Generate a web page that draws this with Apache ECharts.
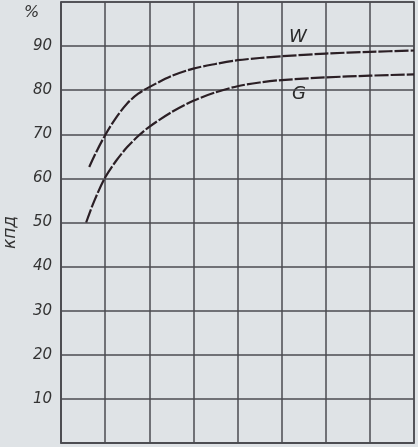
<!DOCTYPE html>
<html>
<head>
<meta charset="utf-8">
<script src="https://cdn.jsdelivr.net/npm/echarts@6/dist/echarts.min.js"></script>
<style>
html,body{margin:0;padding:0;background:#dfe3e6;}
#c{width:418px;height:447px;}
</style>
</head>
<body>
<div id="c"></div>
<script>
// x positions in grid units (no labels shown on the original)
const wX = [0.64, 0.8, 1.0, 1.25, 1.5, 1.75, 2.0, 2.5, 3.0, 3.5, 4.0, 4.5, 5.0, 6.0, 7.0, 8.0];
const wY = [62.6, 66.0, 69.8, 73.8, 77.0, 79.2, 80.7, 83.2, 84.9, 85.95, 86.8, 87.3, 87.7, 88.3, 88.7, 89.0];
const gX = [0.57, 0.75, 1.0, 1.25, 1.5, 1.75, 2.0, 2.5, 3.0, 3.5, 4.0, 4.5, 5.0, 6.0, 7.0, 8.0];
const gY = [50.0, 54.8, 60.2, 64.0, 67.1, 69.6, 71.7, 75.0, 77.6, 79.5, 80.9, 81.75, 82.3, 82.9, 83.3, 83.6];
const yTicks = [10, 20, 30, 40, 50, 60, 70, 80, 90];
const seriesNames = ['W', 'G'];
const yName = 'кпд';
const unit = '%';

const chart = echarts.init(document.getElementById('c'), null, {renderer: 'canvas'});
const gridCol = '#4b4b50';
const lineCol = '#2b1f25';
function pairs(xs, ys) { return xs.map((x, i) => [x, ys[i]]); }
chart.setOption({
  backgroundColor: '#dfe3e6',
  animation: false,
  grid: {left: 61, right: 4, top: 2, bottom: 4, outerBoundsMode: 'none', containLabel: false,
         show: true, borderColor: gridCol, borderWidth: 1.5, backgroundColor: 'transparent'},
  xAxis: {
    type: 'value', min: 0, max: 8, interval: 1,
    axisLine: {show: true, lineStyle: {color: gridCol, width: 1.5}},
    axisTick: {show: false}, axisLabel: {show: false},
    splitLine: {show: true, lineStyle: {color: gridCol, width: 1.5}}
  },
  yAxis: {
    type: 'value', min: 0, max: 100, interval: 10,
    name: yName, nameLocation: 'middle', nameGap: 42, nameRotate: 90,
    nameTextStyle: {fontFamily: 'DejaVu Sans', fontStyle: 'italic', fontSize: 17, color: '#333', padding: [0, 0, 0, -20]},
    axisLine: {show: true, lineStyle: {color: gridCol, width: 1.5}},
    axisTick: {show: false},
    axisLabel: {
      margin: 9, fontFamily: 'DejaVu Sans', fontStyle: 'italic', fontSize: 15, color: '#333',
      formatter: v => (yTicks.indexOf(v) >= 0 ? String(v) : '')
    },
    splitLine: {show: true, lineStyle: {color: gridCol, width: 1.5}}
  },
  series: [
    {name: seriesNames[0], type: 'line', data: pairs(wX, wY), smooth: 0.3, symbol: 'none',
     lineStyle: {color: lineCol, width: 2.2, type: [14, 2]}},
    {name: seriesNames[1], type: 'line', data: pairs(gX, gY), smooth: 0.3, symbol: 'none',
     lineStyle: {color: lineCol, width: 2.2, type: [14, 2]}}
  ],
  graphic: [
    {type: 'text', left: 24, top: 5, style: {text: unit, fontFamily: 'DejaVu Sans', fontStyle: 'italic', fontSize: 16, fill: '#333'}},
    {type: 'text', left: 289, top: 28, style: {text: seriesNames[0], fontFamily: 'DejaVu Sans', fontStyle: 'italic', fontSize: 18, fill: '#2a2a2a'}},
    {type: 'text', left: 292, top: 85, style: {text: seriesNames[1], fontFamily: 'DejaVu Sans', fontStyle: 'italic', fontSize: 18, fill: '#2a2a2a'}}
  ]
});
</script>
</body>
</html>
